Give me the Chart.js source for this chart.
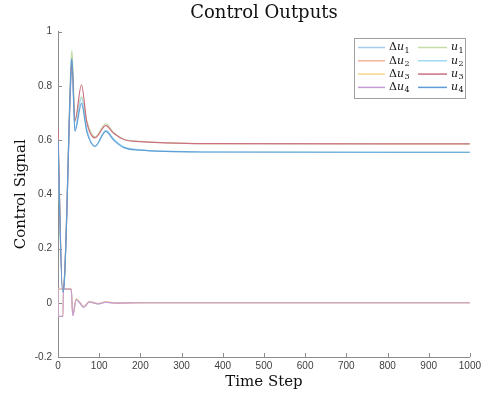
<!DOCTYPE html>
<html>
<head>
<meta charset="utf-8">
<script src="https://cdn.jsdelivr.net/npm/chart.js@4"></script>
<style>
  html, body { margin: 0; padding: 0; background: #fff; }
</style>
</head>
<body>
<canvas id="chart" width="484" height="396"></canvas>
<script>
// Series names (legend, two columns)
const seriesNames = ['Δu1', 'Δu2', 'Δu3', 'Δu4', 'u1', 'u2', 'u3', 'u4'];

// Control increments
const dSteps = [0, 1, 12, 13, 32, 36, 44, 52, 62, 76, 98, 115, 140, 200, 1000];
const du1 = [0.05, 0.05, 0.05, 0.05, 0.05, -0.048, 0.011, 0.001, -0.017, 0.003, -0.004, 0.001, 0, 0, 0];
const du2 = [0.05, 0.05, 0.05, 0.05, 0.05, -0.046, 0.013, 0.003, -0.015, 0.002, -0.003, 0.002, -0.001, 0, 0];
const du3 = [0.05, -0.05, -0.05, 0.05, 0.05, -0.045, 0.014, 0.004, -0.014, 0.004, -0.003, 0.003, 0, 0, 0];
const du4 = [0.05, -0.05, -0.05, 0.05, 0.05, -0.047, 0.012, 0.002, -0.016, 0.003, -0.004, 0.002, -0.001, 0, 0];

// Control outputs
const uSteps = [0, 11, 14, 32, 34, 41, 57, 70, 90, 116, 135, 160, 200, 260, 350, 1000];
const u1 = [0.60, 0.05, 0.06, 0.90, 0.93, 0.675, 0.760, 0.670, 0.612, 0.660, 0.628, 0.603, 0.595, 0.590, 0.587, 0.586];
const u2 = [0.58, 0.05, 0.06, 0.84, 0.86, 0.640, 0.755, 0.640, 0.577, 0.636, 0.605, 0.575, 0.564, 0.559, 0.556, 0.555];
const u3 = [0.64, 0.05, 0.06, 0.86, 0.88, 0.670, 0.804, 0.665, 0.608, 0.653, 0.625, 0.602, 0.594, 0.590, 0.587, 0.586];
const u4 = [0.60, 0.04, 0.05, 0.88, 0.90, 0.632, 0.735, 0.630, 0.577, 0.632, 0.600, 0.572, 0.563, 0.558, 0.556, 0.555];

// MATLAB default colour order, lightened
const lineColors = [
    'rgb(165,203,232)', 'rgb(243,180,155)', 'rgb(248,214,135)', 'rgb(196,156,212)',
    'rgb(196,220,165)', 'rgb(160,218,244)', 'rgb(205,112,128)', 'rgb(95,158,212)'
];

const seriesData = [du1, du2, du3, du4, u1, u2, u3, u4];

function toPoints(steps, vals) {
    return steps.map((s, i) => ({ x: s, y: vals[i] }));
}

const datasets = seriesData.map((vals, i) => ({
    label: seriesNames[i],
    data: toPoints(i < 4 ? dSteps : uSteps, vals),
    borderColor: lineColors[i],
    backgroundColor: lineColors[i],
    borderWidth: 1.2,
    pointRadius: 0,
    cubicInterpolationMode: 'monotone',
    fill: false,
    order: 7 - i // later series on top, like MATLAB
}));

const axisColor = '#8c8c8c';

// Tick marks pointing into the axes
const innerTicks = {
    id: 'innerTicks',
    beforeDatasetsDraw(chart) {
        const { ctx, chartArea, scales: { x, y } } = chart;
        ctx.save();
        ctx.strokeStyle = axisColor;
        ctx.lineWidth = 1;
        ctx.beginPath();
        x.ticks.forEach(t => {
            const px = Math.round(x.getPixelForValue(t.value)) + 0.5;
            ctx.moveTo(px, chartArea.bottom);
            ctx.lineTo(px, chartArea.bottom - 4);
        });
        y.ticks.forEach(t => {
            const py = Math.round(y.getPixelForValue(t.value)) + 0.5;
            ctx.moveTo(chartArea.left, py);
            ctx.lineTo(chartArea.left + 4, py);
        });
        ctx.stroke();
        ctx.restore();
    }
};

// Boxed legend in the top right corner
const boxLegend = {
    id: 'boxLegend',
    afterDraw(chart) {
        const ctx = chart.ctx;
        ctx.save();
        ctx.fillStyle = '#fff';
        ctx.fillRect(354.5, 38.5, 111, 60);
        ctx.strokeStyle = '#a0a0a0';
        ctx.lineWidth = 1;
        ctx.strokeRect(354.5, 38.5, 111, 60);
        ctx.textBaseline = 'middle';
        chart.data.datasets.forEach((ds, i) => {
            const col = Math.floor(i / 4);
            const row = i % 4;
            const y = 47.5 + row * 13.3;
            const x0 = col ? 418 : 358;
            const x1 = col ? 447 : 385;
            ctx.strokeStyle = ds.borderColor;
            ctx.lineWidth = 1.5;
            ctx.beginPath();
            ctx.moveTo(x0, y);
            ctx.lineTo(x1, y);
            ctx.stroke();

            let tx = x1 + 4;
            let name = ds.label;
            ctx.fillStyle = '#111';
            if (name[0] === 'Δ') {
                ctx.font = '11px "DejaVu Serif"';
                ctx.fillText('Δ', tx, y);
                tx += ctx.measureText('Δ').width;
                name = name.slice(1);
            }
            ctx.font = 'italic 11px "DejaVu Serif"';
            ctx.fillText(name[0], tx, y);
            tx += ctx.measureText(name[0]).width;
            ctx.font = '8px "DejaVu Serif"';
            ctx.fillText(name.slice(1), tx + 0.5, y + 3);
        });
        ctx.restore();
    }
};

new Chart(document.getElementById('chart').getContext('2d'), {
    type: 'line',
    data: { datasets },
    plugins: [innerTicks, boxLegend],
    options: {
        responsive: false,
        animation: false,
        layout: { padding: { left: 0, right: 12, top: 0, bottom: 0 } },
        plugins: {
            legend: { display: false },
            tooltip: { enabled: false },
            title: {
                display: true,
                text: 'Control Outputs',
                fullSize: false,
                color: '#111',
                font: { family: '"DejaVu Serif"', size: 18, weight: 'normal' },
                padding: { top: 3, bottom: 7 }
            }
        },
        scales: {
            x: {
                type: 'linear',
                min: 0,
                max: 1000,
                afterFit: s => { s.height = 39; },
                grid: { display: true, drawOnChartArea: false, drawTicks: false },
                border: { display: true, color: axisColor, width: 1 },
                ticks: {
                    stepSize: 100,
                    padding: 3,
                    color: '#404040',
                    maxRotation: 0,
                    font: { family: '"Liberation Sans"', size: 10 },
                    callback: v => String(v)
                },
                title: {
                    display: true,
                    text: 'Time Step',
                    color: '#111',
                    font: { family: '"DejaVu Serif"', size: 15 },
                    padding: { top: 0, bottom: 5 }
                }
            },
            y: {
                min: -0.2,
                max: 1,
                afterFit: s => { s.width = 58; },
                grid: { display: true, drawOnChartArea: false, drawTicks: false },
                border: { display: true, color: axisColor, width: 1 },
                ticks: {
                    stepSize: 0.2,
                    padding: 6,
                    color: '#404040',
                    font: { family: '"Liberation Sans"', size: 10 },
                    callback: v => String(+v.toFixed(1))
                },
                title: {
                    display: true,
                    text: 'Control Signal',
                    color: '#111',
                    font: { family: '"DejaVu Serif"', size: 15 },
                    padding: { top: 12, bottom: 0 }
                }
            }
        }
    }
});
</script>
</body>
</html>
